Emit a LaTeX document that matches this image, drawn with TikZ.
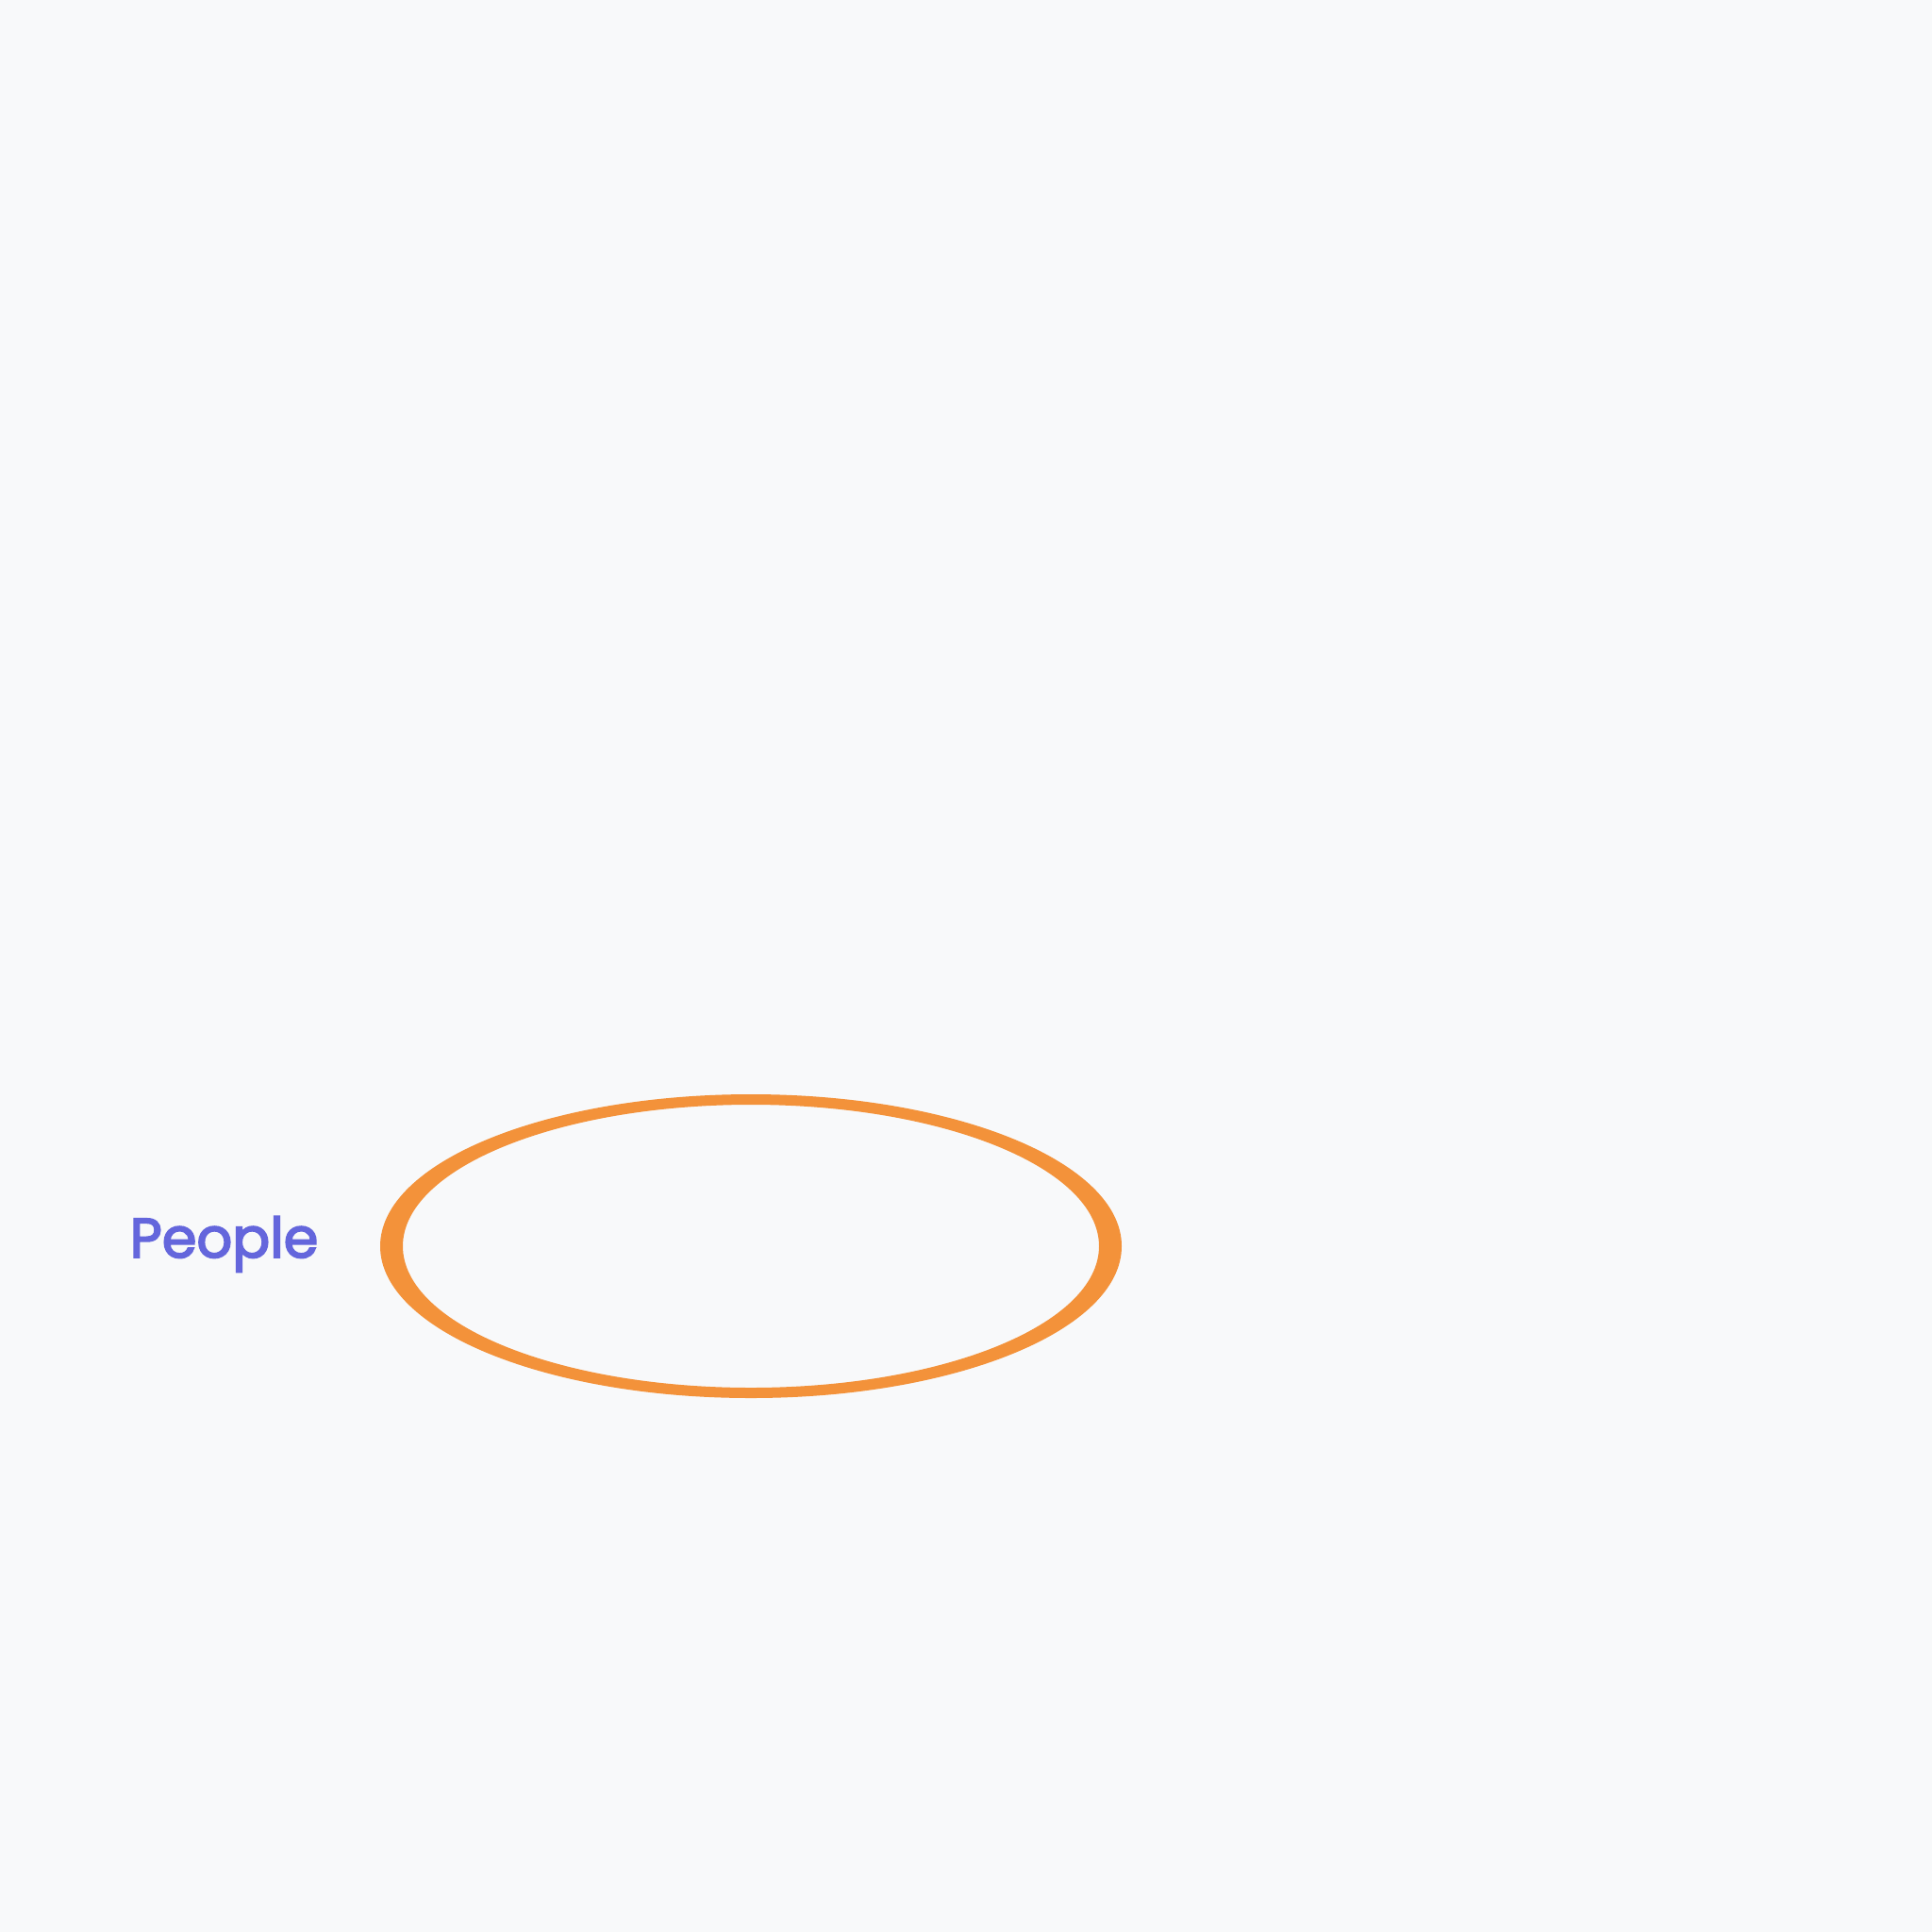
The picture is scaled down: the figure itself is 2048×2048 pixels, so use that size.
\documentclass[tikz,border=0pt]{standalone}
\usepackage{fontspec}
\newfontfamily\labelfont{Poppins}[RawFeature={embolden=3}]
\definecolor{pagebg}{HTML}{F8F9FA}
\definecolor{ringorange}{HTML}{F3923A}
\definecolor{labelblue}{HTML}{6466DC}
\begin{document}
\begin{tikzpicture}[x=0.01cm,y=-0.01cm]

\fill[pagebg] (0,0) rectangle (2048,2048);

\coordinate (ring) at (796,1321);
\fill[ringorange, even odd rule] (ring) ellipse [x radius=393, y radius=161]
                                 (ring) ellipse [x radius=369, y radius=150];

\node[anchor=base, inner sep=0pt, text=labelblue, font=\labelfont\fontsize{16.8}{20}\selectfont] (people) at (237.5,1333) {People};

\end{tikzpicture}
\end{document}
